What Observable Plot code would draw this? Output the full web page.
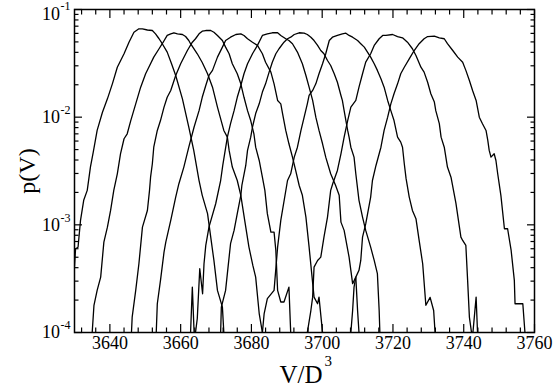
<!DOCTYPE html>
<html><head><meta charset="utf-8">
<script src="https://cdn.jsdelivr.net/npm/d3@7"></script>
<script src="https://cdn.jsdelivr.net/npm/@observablehq/plot@0.6"></script>
<style>html,body{margin:0;padding:0;background:#fff;} #chart svg{display:block;}</style>
</head><body><div id="chart"></div>
<script>
// Each curve: [V/D^3, p(V)]
const curve1 = [[3630.0,4.1e-4],[3630.3,6.0e-4],[3631.0,6.2e-4],[3631.7,1.10e-3],[3632.6,1.69e-3],[3633.6,2.09e-3],[3634.5,3.44e-3],[3635.3,4.73e-3],[3636.4,7.53e-3],[3637.9,0.0111],[3639.3,0.0148],[3640.7,0.0204],[3642.1,0.0291],[3644.0,0.0388],[3645.4,0.0497],[3646.8,0.0615],[3648.2,0.0662],[3649.2,0.0662],[3650.6,0.0645],[3652.0,0.0638],[3652.9,0.0594],[3653.9,0.0535],[3654.8,0.0481],[3656.2,0.0402],[3657.4,0.0315],[3658.6,0.0244],[3660.5,0.0148],[3662.3,0.0081],[3663.7,0.00491],[3665.2,0.00258],[3666.1,0.00188],[3667.6,0.00127],[3668.5,7.69e-4],[3669.4,4.67e-4],[3670.4,2.46e-4],[3671.8,1.72e-4],[3672.2,1e-4]];
const curve2 = [[3635.0,1e-4],[3635.5,1.79e-4],[3636.4,2.46e-4],[3637.4,3.27e-4],[3638.3,6.91e-4],[3639.3,9.52e-4],[3640.2,1.36e-3],[3641.1,2.09e-3],[3642.1,2.98e-3],[3643.0,4.57e-3],[3644.0,6.30e-3],[3644.9,7.01e-3],[3645.9,9.3e-3],[3647.3,0.0133],[3648.7,0.0190],[3650.1,0.0253],[3651.0,0.0291],[3652.4,0.0361],[3653.9,0.0432],[3654.8,0.0481],[3656.2,0.0574],[3657.2,0.0594],[3658.1,0.0608],[3659.1,0.0594],[3660.5,0.0586],[3661.4,0.0561],[3662.3,0.0515],[3662.8,0.0481],[3664.7,0.0388],[3666.1,0.0322],[3667.6,0.0253],[3669.0,0.0190],[3670.4,0.0124],[3672.2,7.53e-3],[3673.2,6.52e-3],[3673.7,4.91e-3],[3674.6,3.44e-3],[3676.0,2.58e-3],[3677.0,1.88e-3],[3678.1,1.10e-3],[3679.3,6.21e-4],[3680.4,4.20e-4],[3681.2,3.27e-4],[3682.2,1.50e-4],[3683.1,1e-4]];
const curve3 = [[3646.1,1e-4],[3646.3,1.39e-4],[3647.3,2.46e-4],[3648.2,4.35e-4],[3649.2,9.52e-4],[3650.6,1.36e-3],[3651.2,2.09e-3],[3651.5,2.77e-3],[3652.0,3.69e-3],[3652.4,5.26e-3],[3653.4,7.53e-3],[3654.3,9.3e-3],[3655.3,0.0124],[3656.2,0.0153],[3657.2,0.0177],[3658.6,0.0244],[3660.0,0.0313],[3661.9,0.0416],[3663.3,0.0497],[3664.2,0.0535],[3665.2,0.0594],[3666.1,0.0629],[3667.1,0.0638],[3668.5,0.0638],[3669.4,0.0615],[3670.4,0.0574],[3671.8,0.0515],[3672.7,0.0447],[3673.7,0.0388],[3674.6,0.0313],[3676.0,0.0253],[3677.0,0.0204],[3677.9,0.0153],[3678.9,0.0115],[3679.8,9.3e-3],[3680.7,7.01e-3],[3681.2,5.26e-3],[3682.2,3.96e-3],[3683.1,2.77e-3],[3683.8,2.09e-3],[3684.5,1.27e-3],[3685.5,8.56e-4],[3686.4,8.56e-4],[3686.9,5.78e-4],[3687.4,2.46e-4],[3688.3,1.92e-4],[3689.2,1.92e-4],[3690.6,2.64e-4],[3691.1,1e-4]];
const curve4 = [[3653.1,1e-4],[3653.4,1.85e-4],[3654.3,3.05e-4],[3655.3,5.58e-4],[3655.8,6.91e-4],[3657.2,1.10e-3],[3658.6,1.81e-3],[3659.5,2.41e-3],[3660.9,3.44e-3],[3662.3,5.26e-3],[3663.8,8.1e-3],[3665.2,0.0115],[3666.1,0.0153],[3667.1,0.0197],[3668.0,0.0244],[3669.0,0.0272],[3670.4,0.0361],[3671.8,0.0447],[3672.7,0.0515],[3674.1,0.0553],[3675.6,0.0586],[3677.0,0.0594],[3677.9,0.0574],[3678.9,0.0535],[3680.3,0.0497],[3681.7,0.0464],[3683.1,0.0388],[3684.0,0.0324],[3685.5,0.0262],[3686.4,0.0204],[3687.4,0.0143],[3688.3,0.0133],[3688.8,0.0108],[3689.7,7.53e-3],[3690.6,5.66e-3],[3691.6,4.25e-3],[3692.5,3.20e-3],[3693.5,2.32e-3],[3694.4,1.88e-3],[3695.4,1.18e-3],[3696.3,6.21e-4],[3697.7,2.13e-4],[3698.7,1.85e-4],[3699.1,2.13e-4],[3700.1,1e-4]];
const curve5 = [[3662.8,1e-4],[3663.3,2.64e-4],[3663.8,1e-4],[3664.2,1e-4],[3664.7,1.35e-4],[3665.4,3.91e-4],[3666.2,2.29e-4],[3666.6,4.35e-4],[3667.1,6.44e-4],[3668.0,9.52e-4],[3669.9,1.57e-3],[3671.3,2.58e-3],[3671.9,3.56e-3],[3673.2,6.52e-3],[3674.1,8.7e-3],[3675.1,0.0115],[3676.0,0.0153],[3677.0,0.0197],[3677.9,0.0253],[3678.9,0.0313],[3680.3,0.0388],[3681.7,0.0464],[3683.1,0.0574],[3684.5,0.0594],[3685.9,0.0608],[3687.4,0.0608],[3688.3,0.0574],[3689.7,0.0535],[3690.6,0.0515],[3691.6,0.0481],[3693.0,0.0402],[3694.4,0.0313],[3695.4,0.0244],[3696.3,0.0190],[3697.3,0.0143],[3698.2,0.0100],[3699.1,7.53e-3],[3700.1,5.66e-3],[3701.0,4.25e-3],[3702.4,2.98e-3],[3703.8,2.32e-3],[3704.8,1.88e-3],[3705.3,1.06e-3],[3706.2,8.88e-4],[3707.6,5.01e-4],[3708.6,2.84e-4],[3709.5,3.27e-4],[3710.0,1.60e-4],[3710.4,1e-4]];
const curve6 = [[3671.3,1e-4],[3671.5,1.72e-4],[3672.7,2.46e-4],[3673.2,3.52e-4],[3674.1,6.68e-4],[3675.1,8.88e-4],[3676.0,1.27e-3],[3677.0,1.88e-3],[3677.3,2.32e-3],[3678.4,3.56e-3],[3678.9,4.91e-3],[3679.8,6.52e-3],[3680.3,8.1e-3],[3681.2,0.0108],[3682.2,0.0133],[3683.1,0.0171],[3684.0,0.0204],[3685.0,0.0262],[3685.9,0.0324],[3686.9,0.0388],[3687.8,0.0432],[3689.2,0.0497],[3690.2,0.0535],[3691.1,0.0553],[3692.1,0.0586],[3693.5,0.0608],[3694.9,0.0603],[3695.8,0.0586],[3696.8,0.0553],[3697.7,0.0515],[3698.7,0.0464],[3699.6,0.0416],[3700.5,0.0388],[3701.5,0.0336],[3702.4,0.0302],[3703.4,0.0253],[3704.3,0.0211],[3705.3,0.0159],[3705.7,0.0143],[3706.2,0.0115],[3706.7,9.3e-3],[3707.2,7.53e-3],[3707.6,6.52e-3],[3708.1,5.26e-3],[3709.0,4.25e-3],[3709.5,2.98e-3],[3710.4,1.69e-3],[3711.4,1.18e-3],[3712.3,8.88e-4],[3713.7,6.21e-4],[3714.7,4.67e-4],[3715.6,3.52e-4],[3716.1,1.60e-4],[3716.3,1e-4]];
const curve7 = [[3683.1,1e-4],[3683.6,1.50e-4],[3684.5,2.06e-4],[3686.4,2.46e-4],[3687.4,6.21e-4],[3688.3,1.10e-3],[3690.2,2.58e-3],[3691.1,2.98e-3],[3692.1,4.25e-3],[3693.0,5.26e-3],[3694.0,7.53e-3],[3694.9,0.0100],[3695.8,0.0133],[3696.3,0.0159],[3697.3,0.0177],[3698.2,0.0204],[3699.1,0.0253],[3700.1,0.0313],[3701.0,0.0388],[3702.0,0.0515],[3702.9,0.0553],[3704.3,0.0574],[3705.7,0.0594],[3706.7,0.0603],[3707.6,0.0574],[3708.6,0.0553],[3710.0,0.0515],[3710.9,0.0481],[3711.9,0.0447],[3712.8,0.0402],[3713.7,0.0361],[3714.7,0.0313],[3715.6,0.0272],[3716.6,0.0227],[3717.5,0.0190],[3718.5,0.0143],[3719.4,0.0115],[3720.3,9.3e-3],[3721.3,6.52e-3],[3722.2,5.86e-3],[3722.7,5.26e-3],[3723.2,3.69e-3],[3723.7,2.70e-3],[3724.6,1.81e-3],[3725.5,1.36e-3],[3726.5,1.14e-3],[3727.4,7.16e-4],[3728.4,4.35e-4],[3729.3,1.79e-4],[3730.5,2.12e-4],[3731.5,1.60e-4],[3731.9,1e-4]];
const curve8 = [[3695.8,1e-4],[3696.8,1.60e-4],[3697.3,2.13e-4],[3697.7,4.05e-4],[3698.7,4.67e-4],[3699.6,5.01e-4],[3700.5,7.69e-4],[3701.5,1.18e-3],[3702.4,2.09e-3],[3703.0,2.42e-3],[3704.3,3.20e-3],[3705.3,4.57e-3],[3706.2,6.52e-3],[3707.2,9.3e-3],[3708.1,0.0124],[3709.5,0.0143],[3710.4,0.0190],[3711.4,0.0253],[3712.3,0.0324],[3713.7,0.0388],[3714.7,0.0464],[3716.1,0.0535],[3717.1,0.0574],[3718.0,0.0574],[3719.9,0.0586],[3721.3,0.0561],[3722.7,0.0546],[3724.1,0.0497],[3725.5,0.0432],[3726.5,0.0374],[3727.9,0.0291],[3728.8,0.0262],[3729.8,0.0211],[3730.7,0.0165],[3731.7,0.0138],[3732.1,0.0115],[3733.1,8.7e-3],[3733.6,6.52e-3],[3734.5,5.26e-3],[3735.4,3.44e-3],[3736.4,2.77e-3],[3737.8,1.58e-3],[3739.2,7.69e-4],[3739.7,7.16e-4],[3740.6,6.44e-4],[3741.1,3.05e-4],[3741.6,1.39e-4],[3742.2,1e-4],[3742.6,1e-4],[3743.5,2.13e-4],[3743.9,1e-4]];
const curve9 = [[3708.1,1e-4],[3708.6,1.60e-4],[3709.0,2.64e-4],[3709.5,3.27e-4],[3710.4,3.78e-4],[3710.9,4.67e-4],[3711.4,7.69e-4],[3712.3,1.02e-3],[3713.7,1.81e-3],[3714.2,2.58e-3],[3715.2,3.56e-3],[3716.6,5.26e-3],[3717.5,7.53e-3],[3718.5,0.0100],[3719.4,0.0133],[3720.3,0.0165],[3721.3,0.0204],[3722.2,0.0253],[3723.2,0.0291],[3724.6,0.0348],[3726.0,0.0416],[3727.4,0.0481],[3728.8,0.0535],[3729.8,0.0561],[3731.7,0.0565],[3733.1,0.0546],[3734.5,0.0535],[3735.4,0.0481],[3736.9,0.0416],[3738.3,0.0361],[3739.7,0.0324],[3740.6,0.0272],[3741.6,0.0219],[3742.5,0.0177],[3743.5,0.0143],[3744.4,0.0100],[3745.3,8.7e-3],[3746.3,7.53e-3],[3746.8,6.08e-3],[3747.2,4.91e-3],[3747.7,4.25e-3],[3748.6,4.57e-3],[3749.1,3.96e-3],[3749.6,2.98e-3],[3750.5,1.88e-3],[3751.5,9.2e-4],[3752.4,9.2e-4],[3753.4,5.78e-4],[3754.3,3.05e-4],[3754.5,1.85e-4],[3756.7,1.85e-4],[3757.3,1e-4]];

const xMajor = [3640, 3660, 3680, 3700, 3720, 3740, 3760];
const xMinor = [3632, 3636, 3644, 3648, 3652, 3656, 3664, 3668, 3672, 3676, 3684, 3688, 3692, 3696, 3704, 3708, 3712, 3716, 3724, 3728, 3732, 3736, 3744, 3748, 3752, 3756];
const yMajor = [1e-4, 1e-3, 1e-2, 1e-1];
const yExponent = ["-4", "-3", "-2", "-1"];
const yMinor = [2e-4,3e-4,4e-4,5e-4,6e-4,7e-4,8e-4,9e-4,2e-3,3e-3,4e-3,5e-3,6e-3,7e-3,8e-3,9e-3,2e-2,3e-2,4e-2,5e-2,6e-2,7e-2,8e-2,9e-2];
const xLabel = "V/D";
const xLabelSup = "3";
const yLabel = "p(V)";

const curves = [curve1, curve2, curve3, curve4, curve5, curve6, curve7, curve8, curve9];
const rows = curves.flatMap((c, i) => c.map(([v, p]) => ({curve: i + 1, v, p})));
const yTicks = yMajor.map((value, i) => ({value, exp: yExponent[i]}));
const yTicksLow = yTicks.slice(0, 3);
const yTicksTop = yTicks.slice(3);

const font = "'Liberation Serif', 'Times New Roman', serif";
const tickStyle = {fill: "none", stroke: "black", strokeWidth: 1.2, label: null};

const chart = Plot.plot({
  width: 554,
  height: 392,
  marginLeft: 74,
  marginRight: 20,
  marginTop: 9,
  marginBottom: 60,
  style: {fontFamily: font, background: "white", color: "black", overflow: "visible"},
  x: {domain: [3630, 3760], axis: null},
  y: {type: "log", domain: [1e-4, 1e-1], axis: null},
  marks: [
    Plot.line(rows, {x: "v", y: "p", z: "curve", stroke: "black", strokeWidth: 1.3, clip: true}),
    Plot.axisX(xMajor, {anchor: "bottom", tickSize: -8, ...tickStyle}),
    Plot.axisX(xMinor, {anchor: "bottom", tickSize: -4.5, ...tickStyle}),
    Plot.axisX(xMajor, {anchor: "top", tickSize: -8, ...tickStyle}),
    Plot.axisX(xMinor, {anchor: "top", tickSize: -4.5, ...tickStyle}),
    Plot.axisY(yMajor, {anchor: "left", tickSize: -8, ...tickStyle}),
    Plot.axisY(yMinor, {anchor: "left", tickSize: -4.5, ...tickStyle}),
    Plot.axisY(yMajor, {anchor: "right", tickSize: -8, ...tickStyle}),
    Plot.axisY(yMinor, {anchor: "right", tickSize: -4.5, ...tickStyle}),
    Plot.frame({stroke: "black", strokeWidth: 1.5}),
    Plot.text(xMajor, {x: d => d, frameAnchor: "bottom", text: d => String(d), textAnchor: "middle", lineAnchor: "top", dy: 3.5, fontSize: 18, fill: "black"}),
    Plot.text(yTicksLow, {y: "value", frameAnchor: "left", text: () => "10", textAnchor: "end", lineAnchor: "middle", dx: -14.5, dy: 0, fontSize: 18, fill: "black"}),
    Plot.text(yTicksLow, {y: "value", frameAnchor: "left", text: "exp", textAnchor: "start", lineAnchor: "middle", dx: -14, dy: -7, fontSize: 12, fill: "black"}),
    Plot.text(yTicksTop, {y: "value", frameAnchor: "left", text: () => "10", textAnchor: "end", lineAnchor: "middle", dx: -14.5, dy: 5, fontSize: 18, fill: "black"}),
    Plot.text(yTicksTop, {y: "value", frameAnchor: "left", text: "exp", textAnchor: "start", lineAnchor: "middle", dx: -14, dy: -3, fontSize: 12, fill: "black"}),
    Plot.text([yLabel], {frameAnchor: "left", text: d => d, rotate: -90, textAnchor: "middle", lineAnchor: "middle", dx: -47, fontSize: 24, fill: "black"}),
    Plot.text([xLabel], {frameAnchor: "bottom", text: d => d, textAnchor: "end", lineAnchor: "middle", dx: 18, dy: 42, fontSize: 25, fill: "black"}),
    Plot.text([xLabelSup], {frameAnchor: "bottom", text: d => d, textAnchor: "start", lineAnchor: "middle", dx: 20, dy: 29, fontSize: 15, fill: "black"})
  ]
});
document.getElementById("chart").appendChild(chart);
</script>
</body></html>
